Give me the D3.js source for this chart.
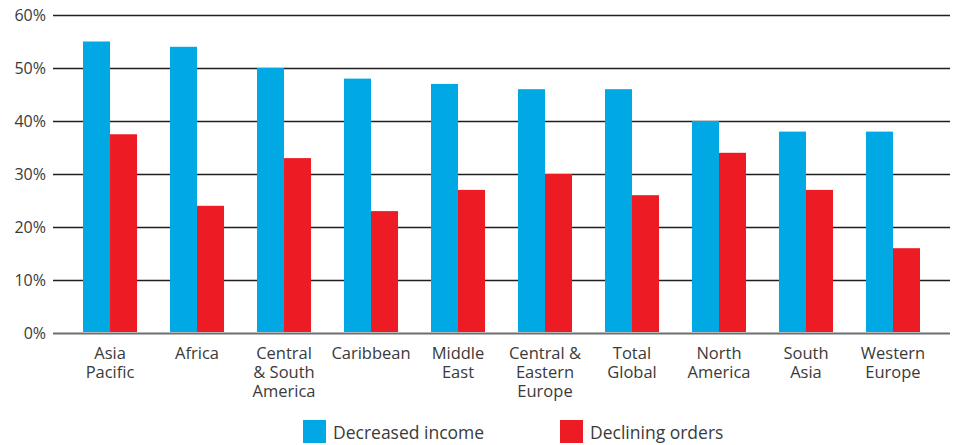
<!DOCTYPE html>
<html>
<head>
<meta charset="utf-8">
<script src="https://cdn.jsdelivr.net/npm/d3@7"></script>
<style>
  body { margin: 0; background: #fff; }
  svg text { font-family: "Open Sans", Lato, sans-serif; fill: #3a3a3a; }
</style>
</head>
<body>
<div id="chart-area"></div>
<script>
var categories = [
    ["Asia", "Pacific"], ["Africa"], ["Central", "& South", "America"], ["Caribbean"],
    ["Middle", "East"], ["Central &", "Eastern", "Europe"], ["Total", "Global"],
    ["North", "America"], ["South", "Asia"], ["Western", "Europe"]
];
var seriesNames = ["Decreased income", "Declining orders"];
var decreasedIncome = [55, 54, 50, 48, 47, 46, 46, 40, 38, 38];
var decliningOrders = [37.5, 24, 33, 23, 27, 30, 26, 34, 27, 16];
var yTicks = [0, 10, 20, 30, 40, 50, 60];
var colors = ["#00a8e4", "#ed1c24"];

var width = 957, height = 445;
var margin = {left: 53, right: 7, top: 15, bottom: 112};
var plotH = height - margin.top - margin.bottom;

var svg = d3.select("#chart-area").append("svg")
    .attr("width", width)
    .attr("height", height);

var names = categories.map(function(c){ return c.join(" "); });

var x = d3.scaleBand()
    .domain(names)
    .range([margin.left, width - margin.right])
    .paddingInner(0.379)
    .paddingOuter(0.345);

var x1 = d3.scaleBand()
    .domain([0, 1])
    .range([0, x.bandwidth()]);

var y = d3.scaleLinear()
    .domain([0, 60])
    .range([margin.top + plotH, margin.top]);

// gridlines + tick labels
var yAxis = d3.axisLeft(y)
    .tickValues(yTicks)
    .tickSize(-(width - margin.left - margin.right))
    .tickPadding(7)
    .tickFormat(function(d){ return d + "%"; });

var gy = svg.append("g")
    .attr("transform", "translate(" + margin.left + ",0)")
    .call(yAxis);
gy.select(".domain").remove();
gy.selectAll(".tick line")
    .attr("stroke", function(d){ return d === 0 ? "#6d6e71" : "#231f20"; })
    .attr("stroke-width", function(d){ return d === 0 ? 2 : 1.5; });
gy.selectAll(".tick text")
    .attr("font-size", "16px")
    .attr("font-family", "Open Sans, sans-serif")
    .attr("fill", "#3a3a3a");

// bars
var rows = names.map(function(n, i){
    return {name: n, values: [decreasedIncome[i], decliningOrders[i]]};
});

var groups = svg.append("g").selectAll("g")
    .data(rows)
    .enter().append("g")
    .attr("transform", function(d){ return "translate(" + x(d.name) + ",0)"; });

groups.selectAll("rect")
    .data(function(d){ return d.values; })
    .enter().append("rect")
    .attr("x", function(d, i){ return x1(i); })
    .attr("y", function(d){ return y(d); })
    .attr("width", x1.bandwidth())
    .attr("height", function(d){ return y(0) - y(d) - 1; })
    .attr("fill", function(d, i){ return colors[i]; });

// category labels
var labels = svg.append("g").selectAll("text")
    .data(categories)
    .enter().append("text")
    .attr("x", function(d, i){ return x(names[i]) + x.bandwidth() / 2; })
    .attr("y", 359)
    .attr("text-anchor", "middle")
    .attr("font-size", "16.5px");

labels.selectAll("tspan")
    .data(function(d){ return d; })
    .enter().append("tspan")
    .attr("x", function(){ return d3.select(this.parentNode).attr("x"); })
    .attr("dy", function(d, i){ return i === 0 ? 0 : 19; })
    .text(function(d){ return d; });

// legend
var legendX = [303, 560];
var legend = svg.append("g").selectAll("g")
    .data(seriesNames)
    .enter().append("g")
    .attr("transform", function(d, i){ return "translate(" + legendX[i] + ",420)"; });

legend.append("rect")
    .attr("width", 23)
    .attr("height", 23)
    .attr("fill", function(d, i){ return colors[i]; });

legend.append("text")
    .attr("x", 30)
    .attr("y", 19)
    .attr("font-size", "17.5px")
    .text(function(d){ return d; });
</script>
</body>
</html>
